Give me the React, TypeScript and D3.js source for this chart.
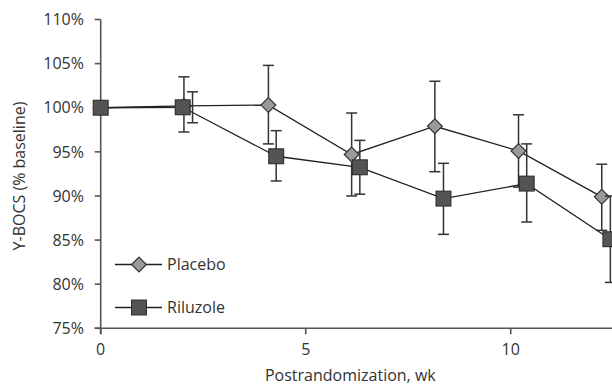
import React from "react";
import * as d3 from "d3";

// weeks as plotted (the two groups are drawn slightly offset)
const placeboWeek = [0, 2.03, 4.09, 6.12, 8.15, 10.19, 12.22];
const placeboMean = [100, 100.2, 100.3, 94.7, 97.9, 95.1, 89.9];
const placeboLow = [100, 97.25, 95.9, 90.0, 92.75, 91.0, 86.1];
const placeboHigh = [100, 103.5, 104.8, 99.4, 103.0, 99.2, 93.6];

const riluzoleWeek = [0, 2.0, 4.28, 6.32, 8.36, 10.39, 12.43];
const riluzoleErrWeek = [0, 2.24, 4.28, 6.32, 8.36, 10.39, 12.43];
const riluzoleMean = [100, 100.05, 94.5, 93.25, 89.7, 91.4, 85.1];
const riluzoleLow = [100, 98.3, 91.7, 90.2, 85.65, 87.05, 80.2];
const riluzoleHigh = [100, 101.8, 97.4, 96.3, 93.7, 95.9, 90.0];

const yTicks = [75, 80, 85, 90, 95, 100, 105, 110];
const xTicks = [0, 5, 10];

const W = 612;
const H = 385;
const FONT = "'Open Sans', sans-serif";

const x = d3.scaleLinear().domain([0, 12.47]).range([100.7, 612]);
const y = d3.scaleLinear().domain([75, 110]).range([328.3, 19.5]);

const lineGen = d3
  .line<[number, number]>()
  .x((d) => x(d[0]))
  .y((d) => y(d[1]));

const diamond = (cx: number, cy: number, r: number) =>
  `M${cx},${cy - r}L${cx + r},${cy}L${cx},${cy + r}L${cx - r},${cy}Z`;

function ErrBars({ xs, lo, hi }: { xs: number[]; lo: number[]; hi: number[] }) {
  return (
    <g stroke="#333" strokeWidth={1.5} fill="none">
      {xs.map((w, i) =>
        lo[i] === hi[i] ? null : (
          <g key={i}>
            <line x1={x(w)} x2={x(w)} y1={y(lo[i])} y2={y(hi[i])} />
            <line x1={x(w) - 5.5} x2={x(w) + 5.5} y1={y(lo[i])} y2={y(lo[i])} />
            <line x1={x(w) - 5.5} x2={x(w) + 5.5} y1={y(hi[i])} y2={y(hi[i])} />
          </g>
        )
      )}
    </g>
  );
}

export default function App() {
  const pPts = placeboWeek.map((w, i) => [w, placeboMean[i]] as [number, number]);
  const rPts = riluzoleWeek.map((w, i) => [w, riluzoleMean[i]] as [number, number]);
  const axisY = y(75);

  return (
    <svg
      width={W}
      height={H}
      style={{ position: "absolute", left: 0, top: 0, background: "#fff" }}
      fontFamily={FONT}
    >
      {/* axes */}
      <g stroke="#555" strokeWidth={1.6}>
        <line x1={x(0)} x2={x(0)} y1={y(110)} y2={axisY + 6} />
        <line x1={x(0) - 6} x2={W} y1={axisY} y2={axisY} />
        {yTicks.map((t) => (
          <line key={t} x1={x(0) - 6} x2={x(0)} y1={y(t)} y2={y(t)} />
        ))}
        {xTicks.map((t) => (
          <line key={t} x1={x(t)} x2={x(t)} y1={axisY} y2={axisY + 6} />
        ))}
      </g>
      <g fill="#333" fontSize={16}>
        {yTicks.map((t) => (
          <text key={t} x={84} y={y(t)} dy="0.36em" textAnchor="end">
            {t}%
          </text>
        ))}
        {xTicks.map((t) => (
          <text key={t} x={x(t)} y={355} textAnchor="middle">
            {t}
          </text>
        ))}
        <text x={(x(0) + W) / 2 - 6} y={380.5} textAnchor="middle">
          Postrandomization, wk
        </text>
        <text transform={`translate(25,176) rotate(-90)`} textAnchor="middle">
          Y-BOCS (% baseline)
        </text>
      </g>

      {/* placebo */}
      <path d={lineGen(pPts) ?? ""} fill="none" stroke="#222" strokeWidth={1.3} />
      <ErrBars xs={placeboWeek} lo={placeboLow} hi={placeboHigh} />
      {pPts.map((d, i) => (
        <path key={i} d={diamond(x(d[0]), y(d[1]), 7.4)} fill="#9a9a9a" stroke="#333" strokeWidth={1.2} />
      ))}

      {/* riluzole */}
      <path d={lineGen(rPts) ?? ""} fill="none" stroke="#222" strokeWidth={1.3} />
      <ErrBars xs={riluzoleErrWeek} lo={riluzoleLow} hi={riluzoleHigh} />
      {rPts.map((d, i) => (
        <rect
          key={i}
          x={x(d[0]) - 7.4}
          y={y(d[1]) - 7.4}
          width={14.8}
          height={14.8}
          fill="#545454"
          stroke="#333"
          strokeWidth={1.2}
        />
      ))}

      {/* legend */}
      <g>
        <line x1={115} x2={162} y1={264.5} y2={264.5} stroke="#222" strokeWidth={1.3} />
        <path d={diamond(139, 264.5, 7.4)} fill="#9a9a9a" stroke="#333" strokeWidth={1.2} />
        <text x={167} y={264.5} dy="0.36em" fontSize={16} fill="#333">
          Placebo
        </text>
        <line x1={115} x2={162} y1={307.5} y2={307.5} stroke="#222" strokeWidth={1.3} />
        <rect x={131.6} y={300.1} width={14.8} height={14.8} fill="#545454" stroke="#333" strokeWidth={1.2} />
        <text x={167} y={307.5} dy="0.36em" fontSize={16} fill="#333">
          Riluzole
        </text>
      </g>
    </svg>
  );
}
